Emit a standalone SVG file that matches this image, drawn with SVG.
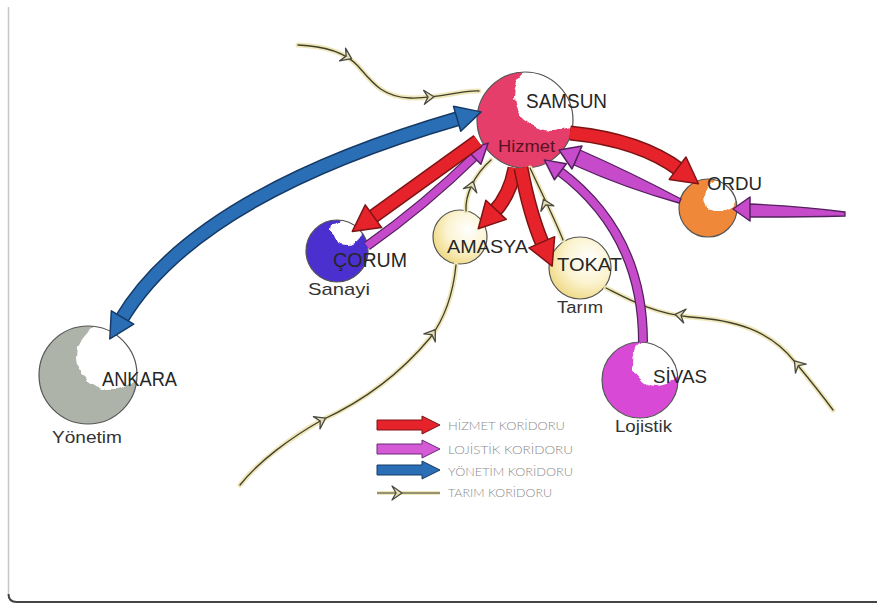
<svg xmlns="http://www.w3.org/2000/svg" width="877" height="604" viewBox="0 0 877 604">
<style>
.lbl{font-family:"Liberation Sans",Arial,sans-serif;fill:#262626}
.sub{font-family:"Liberation Sans",Arial,sans-serif;fill:#333}
.leg{font-family:"Lato","Open Sans",sans-serif;font-weight:300;fill:#8a8a8a;font-size:12px}
.ring{fill:none;stroke:#555;stroke-width:1.2}
.halo{fill:none;stroke:#efe7b9;stroke-width:5;stroke-linecap:round}
.tline{fill:none;stroke:#3f3f2c;stroke-width:1.3;stroke-linecap:round}
.tmark{fill:#e4ddb5;stroke:#4a4a40;stroke-width:1.3;stroke-linejoin:round}
.redO{fill:none;stroke:#7d1414;stroke-width:15}
.red{fill:none;stroke:#e6232a;stroke-width:12}
.bluO{fill:none;stroke:#163a66;stroke-width:15}
.blu{fill:none;stroke:#2a6fb5;stroke-width:12}
.purO{fill:none;stroke:#55205e;stroke-width:10}
.pur{fill:none;stroke:#c64bcb;stroke-width:7.5}
</style>
<defs>
<filter id="rough" x="-20%" y="-20%" width="140%" height="140%">
<feTurbulence type="fractalNoise" baseFrequency="0.09" numOctaves="2" seed="4" result="n"/>
<feDisplacementMap in="SourceGraphic" in2="n" scale="8" xChannelSelector="R" yChannelSelector="G"/>
</filter>
<radialGradient id="gYel" cx="0.62" cy="0.38" r="0.7" fx="0.65" fy="0.35">
<stop offset="0" stop-color="#ffffff"/><stop offset="0.55" stop-color="#fbf3cf"/><stop offset="1" stop-color="#eed67c"/>
</radialGradient>
<clipPath id="cSam"><circle cx="525" cy="120" r="48"/></clipPath>
<clipPath id="cCor"><circle cx="337" cy="251" r="31"/></clipPath>
<clipPath id="cOrd"><circle cx="708" cy="208" r="29"/></clipPath>
<clipPath id="cSiv"><circle cx="640" cy="380" r="38"/></clipPath>
<clipPath id="cAnk"><circle cx="88" cy="375" r="49"/></clipPath>
<marker id="hRed" markerUnits="userSpaceOnUse" markerWidth="60" markerHeight="60" viewBox="-30 -30 60 60" refX="0" refY="0" orient="auto-start-reverse" overflow="visible">
<path d="M-3,-14 L23,0 L-3,14 Z" fill="#e6232a" stroke="#7d1414" stroke-width="1.5" stroke-linejoin="round"/>
</marker>
<marker id="hBlu" markerUnits="userSpaceOnUse" markerWidth="60" markerHeight="60" viewBox="-30 -30 60 60" refX="0" refY="0" orient="auto-start-reverse" overflow="visible">
<path d="M-3,-13 L22,0 L-3,13 Z" fill="#2a6fb5" stroke="#163a66" stroke-width="1.5" stroke-linejoin="round"/>
</marker>
<marker id="hPur" markerUnits="userSpaceOnUse" markerWidth="60" markerHeight="60" viewBox="-30 -30 60 60" refX="0" refY="0" orient="auto-start-reverse" overflow="visible">
<path d="M-3,-10 L17,0 L-3,10 Z" fill="#c64bcb" stroke="#55205e" stroke-width="1.5" stroke-linejoin="round"/>
</marker>
<path id="tm" d="M-6,-7 L4,0 L-6,7 L-2,0 Z"/>
</defs>

<rect width="877" height="604" fill="#ffffff"/>
<path d="M8.5,7 V594" fill="none" stroke="#c8c8c8" stroke-width="1.5"/>
<path d="M8.5,594 Q8.5,602 16.5,602 H877" fill="none" stroke="#444" stroke-width="2"/>

<g id="samsun">
<circle cx="525" cy="120" r="48" fill="#e63e6a"/>
<g clip-path="url(#cSam)"><ellipse cx="553" cy="96" rx="40" ry="35" fill="#fff" filter="url(#rough)"/></g>
<circle class="ring" cx="525" cy="120" r="48"/>
<text class="lbl" x="526" y="108" font-size="20" textLength="81" lengthAdjust="spacingAndGlyphs">SAMSUN</text>
<text x="498" y="152" font-family="Liberation Sans,Arial,sans-serif" font-size="17" fill="#5a1222" textLength="57" lengthAdjust="spacingAndGlyphs">Hizmet</text>
</g>

<g id="corum">
<circle cx="337" cy="251" r="31" fill="#4b30cf"/>
<g clip-path="url(#cCor)"><ellipse cx="347" cy="232" rx="15" ry="13" fill="#fff" filter="url(#rough)"/></g>
<circle class="ring" cx="337" cy="251" r="31"/>
<text class="lbl" x="333" y="267" font-size="20" textLength="74" lengthAdjust="spacingAndGlyphs">ÇORUM</text>
<text class="sub" x="308" y="295" font-size="17" textLength="62" lengthAdjust="spacingAndGlyphs">Sanayi</text>
</g>

<g id="amasya">
<circle cx="460" cy="237" r="27" fill="url(#gYel)"/>
<circle class="ring" cx="460" cy="237" r="27"/>
<text class="lbl" x="447" y="253" font-size="18" textLength="81" lengthAdjust="spacingAndGlyphs">AMASYA</text>
</g>

<g id="tokat">
<circle cx="580" cy="268" r="31" fill="url(#gYel)"/>
<circle class="ring" cx="580" cy="268" r="31"/>
<text class="lbl" x="557" y="271" font-size="19" textLength="65" lengthAdjust="spacingAndGlyphs">TOKAT</text>
<text class="sub" x="557" y="313" font-size="16" textLength="46" lengthAdjust="spacingAndGlyphs">Tarım</text>
</g>

<g id="ordu">
<circle cx="708" cy="208" r="29" fill="#f0883a"/>
<g clip-path="url(#cOrd)"><ellipse cx="720" cy="196" rx="17" ry="16" fill="#fff" filter="url(#rough)"/></g>
<circle class="ring" cx="708" cy="208" r="29"/>
<text class="lbl" x="707" y="190" font-size="19" textLength="55" lengthAdjust="spacingAndGlyphs">ORDU</text>
</g>

<g id="sivas">
<circle cx="640" cy="380" r="38" fill="#d84ad6"/>
<g clip-path="url(#cSiv)"><ellipse cx="657" cy="362" rx="25" ry="24" fill="#fff" filter="url(#rough)"/></g>
<circle class="ring" cx="640" cy="380" r="38"/>
<text class="lbl" x="653" y="383" font-size="19" textLength="54" lengthAdjust="spacingAndGlyphs">SİVAS</text>
<text class="sub" x="615" y="432" font-size="16" textLength="57" lengthAdjust="spacingAndGlyphs">Lojistik</text>
</g>

<g id="ankara">
<circle cx="88" cy="375" r="49" fill="#aeb3a9"/>
<g clip-path="url(#cAnk)"><ellipse cx="110" cy="357" rx="33" ry="33" fill="#fff" filter="url(#rough)"/></g>
<circle class="ring" cx="88" cy="375" r="49"/>
<text class="lbl" x="102" y="386" font-size="20" textLength="75" lengthAdjust="spacingAndGlyphs">ANKARA</text>
<text class="sub" x="52" y="443" font-size="17" textLength="70" lengthAdjust="spacingAndGlyphs">Yönetim</text>
</g>

<g id="connectors">
<g id="tarim">
<path class="halo" d="M298,45 C325,46 345,52 358,66 C372,82 382,97 410,98 C440,99 460,90 479,91"/>
<path class="tline" d="M298,45 C325,46 345,52 358,66 C372,82 382,97 410,98 C440,99 460,90 479,91"/>
<path class="halo" d="M466,211 C465,195 474,175 491,160"/>
<path class="tline" d="M466,211 C465,195 474,175 491,160"/>
<path class="halo" d="M563,240 C556,222 545,200 530,168"/>
<path class="tline" d="M563,240 C556,222 545,200 530,168"/>
<path class="halo" d="M456,265 C453,295 445,318 430,338 C405,368 370,398 322,420 C290,438 258,462 240,485"/>
<path class="tline" d="M456,265 C453,295 445,318 430,338 C405,368 370,398 322,420 C290,438 258,462 240,485"/>
<path class="halo" d="M606,288 C630,300 655,314 690,317 C735,320 770,330 795,362 C810,380 822,395 833,410"/>
<path class="tline" d="M606,288 C630,300 655,314 690,317 C735,320 770,330 795,362 C810,380 822,395 833,410"/>
<use href="#tm" class="tmark" transform="translate(348,57) rotate(25)"/>
<use href="#tm" class="tmark" transform="translate(430,97) rotate(-3)"/>
<use href="#tm" class="tmark" transform="translate(472,185) rotate(-72)"/>
<use href="#tm" class="tmark" transform="translate(545,203) rotate(-113)"/>
<use href="#tm" class="tmark" transform="translate(433,333) rotate(-55)"/>
<use href="#tm" class="tmark" transform="translate(322,420) rotate(-28)"/>
<use href="#tm" class="tmark" transform="translate(679,315) rotate(190)"/>
<use href="#tm" class="tmark" transform="translate(797,364) rotate(230)"/>
</g>
<g id="yonetim">
<path class="bluO" d="M121,320 Q195,195 460,118"/>
<path class="blu" d="M121,320 Q195,195 460,118" marker-start="url(#hBlu)" marker-end="url(#hBlu)"/>
</g>
<g id="lojistik">
<path class="purO" d="M367,246 Q425,205 476,155"/>
<path class="pur" d="M367,246 Q425,205 476,155" marker-end="url(#hPur)"/>
<path class="purO" d="M643,342 C643,265 612,210 558,170"/>
<path class="pur" d="M643,342 C643,265 612,210 558,170" marker-end="url(#hPur)"/>
<path d="M681,199 Q630,172 580,150 L574,165 Q625,188 679,203 Z" fill="#c64bcb" stroke="#55205e" stroke-width="1.3"/>
<path d="M582,146 L559,150 L572,169 Z" fill="#c64bcb" stroke="#55205e" stroke-width="1.5" stroke-linejoin="round"/>
<path d="M845,212 Q800,206 748,204 L748,217 Q800,217 845,216 Z" fill="#c64bcb" stroke="#55205e" stroke-width="1.3"/>
<path d="M750,197 L733,209 L750,221 Z" fill="#c64bcb" stroke="#55205e" stroke-width="1.5" stroke-linejoin="round"/>
</g>
<g id="hizmet">
<path class="redO" d="M478,141 L371,218"/>
<path class="red" d="M478,141 L371,218" marker-end="url(#hRed)"/>
<path class="redO" d="M515,168 Q510,195 494,212"/>
<path class="red" d="M515,168 Q510,195 494,212" marker-end="url(#hRed)"/>
<path class="redO" d="M521,168 Q530,215 543,245"/>
<path class="red" d="M521,168 Q530,215 543,245" marker-end="url(#hRed)"/>
<path class="redO" d="M570,133 Q640,140 680,170"/>
<path class="red" d="M570,133 Q640,140 680,170" marker-end="url(#hRed)"/>
</g>
</g>

<g id="legend">
<path d="M377,420 H422 V416 L440,425 L422,434 V430 H377 Z" fill="#e6232a" stroke="#7d1414" stroke-width="1"/>
<text class="leg" x="448" y="430" textLength="117" lengthAdjust="spacingAndGlyphs">HİZMET KORİDORU</text>
<path d="M377,444 H422 V440 L440,449 L422,458 V454 H377 Z" fill="#d45ad6" stroke="#6a2b7a" stroke-width="1"/>
<text class="leg" x="448" y="454" textLength="125" lengthAdjust="spacingAndGlyphs">LOJİSTİK KORİDORU</text>
<path d="M377,465 H422 V461 L440,470 L422,479 V475 H377 Z" fill="#2a6fb5" stroke="#163a66" stroke-width="1"/>
<text class="leg" x="448" y="476" textLength="125" lengthAdjust="spacingAndGlyphs">YÖNETİM KORİDORU</text>
<path d="M377,493 H440" fill="none" stroke="#efe7b9" stroke-width="4"/>
<path d="M377,493 H440" fill="none" stroke="#3f3f2c" stroke-width="1.2"/>
<use href="#tm" class="tmark" transform="translate(398,493)"/>
<text class="leg" x="448" y="497" textLength="104" lengthAdjust="spacingAndGlyphs">TARIM KORİDORU</text>
</g>
</svg>
